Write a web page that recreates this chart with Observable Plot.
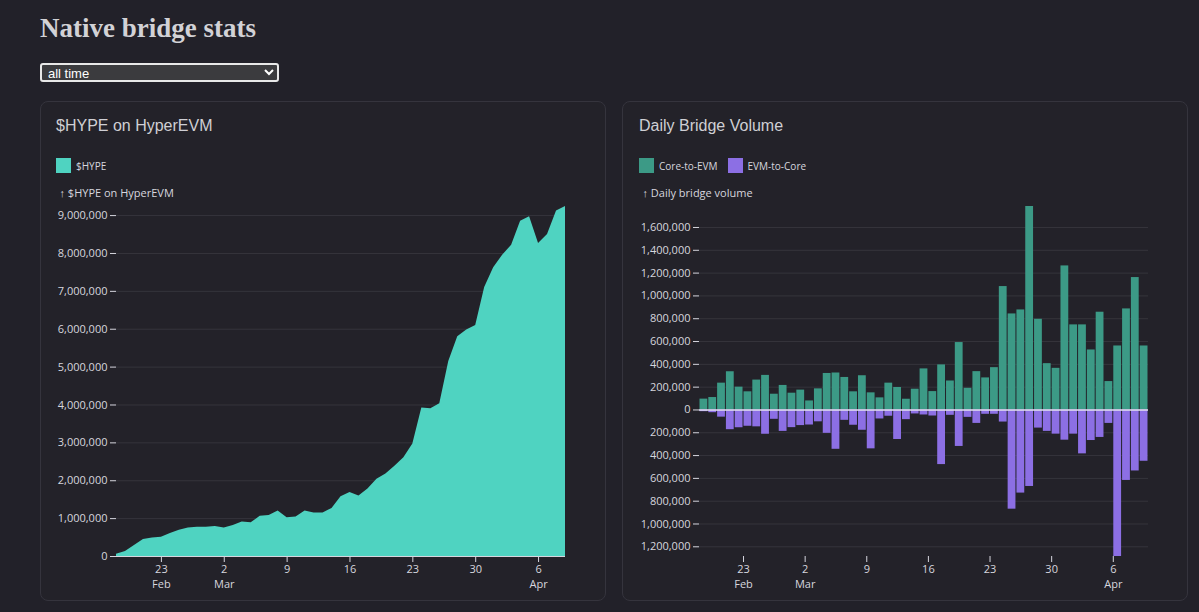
<!DOCTYPE html>
<html>
<head>
<meta charset="utf-8">
<script src="https://cdn.jsdelivr.net/npm/d3@7"></script>
<script src="https://cdn.jsdelivr.net/npm/@observablehq/plot@0.6"></script>
<style>
  html, body { margin: 0; padding: 0; background: #222129; color: #d6d6de; }
  body { width: 1199px; height: 612px; overflow: hidden; position: relative; font-family: "Open Sans", sans-serif; }
  h1 { position: absolute; left: 40px; top: 13px; margin: 0; font: bold 27px/30px "Liberation Serif", serif; color: #d2d2d6; }
  select { position: absolute; left: 40px; top: 63px; width: 239px; height: 19px; box-sizing: border-box;
           background: #3b3b3e; color: #fff; border: 2px solid #e8e8e8; border-radius: 3px;
           font: 13px "Liberation Sans", Arial, sans-serif; padding: 0 2px; color-scheme: dark; }
  .card { position: absolute; top: 101px; width: 566px; height: 500px; box-sizing: border-box;
          border: 1px solid #35343d; border-radius: 8px; background: #232229; }
  .ctitle { position: absolute; top: 116px; margin: 0; font: 16px/20px "Liberation Sans", Arial, sans-serif; color: #cfcfd4; }
  .legend { position: absolute; top: 149px; }
  .chart { position: absolute; top: 186px; }
</style>
</head>
<body>
<h1>Native bridge stats</h1>
<select><option>all time</option><option>last 30 days</option></select>
<div class="card" style="left:40px"></div>
<div class="card" style="left:622px"></div>
<div class="ctitle" style="left:56px">$HYPE on HyperEVM</div>
<div class="ctitle" style="left:639px">Daily Bridge Volume</div>
<div class="legend" id="leg1" style="left:56px"></div>
<div class="legend" id="leg2" style="left:639px"></div>
<div class="chart" id="chart1" style="left:56px"></div>
<div class="chart" id="chart2" style="left:639px"></div>
<script>
// Days (UTC), 18 Feb – 9 Apr 2025
const dates = [
  "2025-02-18","2025-02-19","2025-02-20","2025-02-21","2025-02-22","2025-02-23","2025-02-24",
  "2025-02-25","2025-02-26","2025-02-27","2025-02-28","2025-03-01","2025-03-02","2025-03-03",
  "2025-03-04","2025-03-05","2025-03-06","2025-03-07","2025-03-08","2025-03-09","2025-03-10",
  "2025-03-11","2025-03-12","2025-03-13","2025-03-14","2025-03-15","2025-03-16","2025-03-17",
  "2025-03-18","2025-03-19","2025-03-20","2025-03-21","2025-03-22","2025-03-23","2025-03-24",
  "2025-03-25","2025-03-26","2025-03-27","2025-03-28","2025-03-29","2025-03-30","2025-03-31",
  "2025-04-01","2025-04-02","2025-04-03","2025-04-04","2025-04-05","2025-04-06","2025-04-07",
  "2025-04-08","2025-04-09"
];

// $HYPE on HyperEVM (millions)
const hypeMillions = [
  0.06, 0.13, 0.29, 0.45, 0.49, 0.51, 0.61, 0.69, 0.75, 0.77, 0.77, 0.79, 0.75, 0.82,
  0.91, 0.89, 1.06, 1.08, 1.20, 1.02, 1.04, 1.20, 1.15, 1.15, 1.27, 1.58, 1.69, 1.60,
  1.78, 2.04, 2.18, 2.38, 2.61, 2.97, 3.92, 3.90, 4.03, 5.15, 5.80, 5.98, 6.10, 7.10,
  7.62, 7.95, 8.22, 8.85, 8.97, 8.26, 8.50, 9.12, 9.24
];

// Daily bridge volume (thousands)
const coreToEvmK = [
  95, 109, 235, 335, 200, 159, 262, 303, 138, 215, 147, 174, 79, 185, 320, 324, 285,
  159, 300, 150, 106, 235, 197, 94, 182, 360, 161, 395, 254, 591, 190, 336, 281, 371,
  1082, 842, 877, 1784, 795, 406, 365, 1263, 746, 746, 526, 857, 249, 561, 886, 1161, 561
];
const evmToCoreK = [
  15, 24, 63, 173, 156, 143, 148, 213, 82, 188, 155, 137, 132, 104, 205, 345, 91,
  134, 178, 341, 79, 55, 259, 85, 35, 44, 53, 479, 47, 320, 65, 118, 38, 38,
  106, 870, 729, 671, 159, 188, 212, 265, 212, 385, 268, 241, 118, 1285, 618, 535, 450
];

const seriesNames = ["Core-to-EVM", "EVM-to-Core"];
const colHype = "#4fd3c1";
const colCore = "#3c9a86";
const colEvm = "#8c6fe4";

const hypeRows = dates.map((d, i) => ({date: new Date(d), value: hypeMillions[i] * 1e6}));
const volRows = dates.map((d, i) => ({date: new Date(d), core: coreToEvmK[i] * 1e3, evm: -evmToCoreK[i] * 1e3}));

const plotStyle = {background: "transparent", color: "#d6d6de", fontFamily: "Open Sans, sans-serif", fontSize: "11px"};
const legStyle = {background: "transparent", color: "#d6d6de", fontFamily: "Open Sans, sans-serif", fontSize: "10px"};
const fmtAbs = d => Math.abs(d).toLocaleString("en-US");

document.getElementById("leg1").append(Plot.legend({
  color: {domain: ["$HYPE"], range: [colHype]}, legend: "swatches", style: legStyle
}));
document.getElementById("leg2").append(Plot.legend({
  color: {domain: seriesNames, range: [colCore, colEvm]}, legend: "swatches", style: legStyle
}));

const common = {width: 534, height: 410, marginLeft: 60, marginRight: 25, marginTop: 20, marginBottom: 40, style: plotStyle};

function spreadLines(svg) {
  // set the spacing between the two lines of the date tick labels
  svg.querySelectorAll("text").forEach(txt => {
    const spans = txt.querySelectorAll("tspan");
    if (spans.length < 2) return;
    spans.forEach((t, i) => {
      if (i === 0) return;
      t.removeAttribute("y");
      t.setAttribute("dy", "1.3em");
    });
  });
  return svg;
}

document.getElementById("chart1").append(spreadLines(Plot.plot({
  ...common,
  x: {label: null},
  y: {grid: true, label: "$HYPE on HyperEVM", tickFormat: fmtAbs},
  marks: [
    Plot.areaY(hypeRows, {x: "date", y: "value", fill: colHype}),
    Plot.ruleY([0])
  ]
})));

document.getElementById("chart2").append(spreadLines(Plot.plot({
  ...common,
  x: {label: null},
  y: {grid: true, label: "Daily bridge volume", tickFormat: fmtAbs},
  marks: [
    Plot.rectY(volRows, {x: "date", y: "core", interval: "day", fill: colCore, insetLeft: 0.5, insetRight: 0.5}),
    Plot.rectY(volRows, {x: "date", y: "evm", interval: "day", fill: colEvm, insetLeft: 0.5, insetRight: 0.5}),
    Plot.ruleY([0], {stroke: "#e4e2f2", strokeWidth: 1.5})
  ]
})));
</script>
</body>
</html>
